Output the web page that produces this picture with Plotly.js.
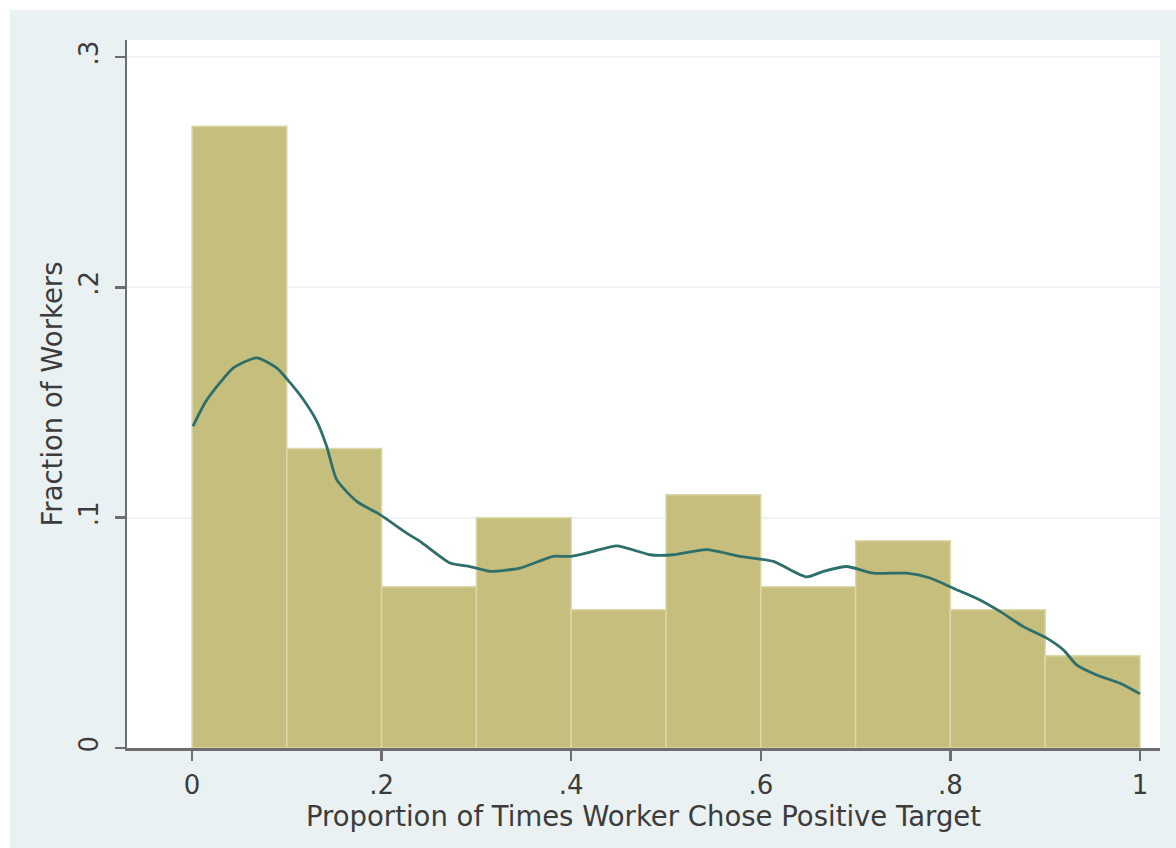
<!DOCTYPE html>
<html>
<head>
<meta charset="utf-8">
<script src="https://cdn.plot.ly/plotly-3.0.1.min.js"></script>
<style>html,body{margin:0;padding:0;background:#fff;}#chart{width:1176px;height:848px;}</style>
</head>
<body>
<div id="chart"></div>
<script>
// Histogram bins (bin centers) and fractions
const binCenters = [0.05, 0.15, 0.25, 0.35, 0.45, 0.55, 0.65, 0.75, 0.85, 0.95];
const fractions  = [0.27, 0.13, 0.07, 0.10, 0.06, 0.11, 0.07, 0.09, 0.06, 0.04];

// Kernel density curve
const kdeX = [0.001, 0.0137, 0.0295, 0.0436, 0.0682, 0.0893, 0.1034, 0.1174, 0.1315, 0.142, 0.1526, 0.1737, 0.1983, 0.2264, 0.2405, 0.2722, 0.2932, 0.3143, 0.346, 0.3811, 0.3987, 0.4233, 0.448, 0.4831, 0.5077, 0.543, 0.578, 0.6132, 0.6484, 0.666, 0.6906, 0.7187, 0.754, 0.7785, 0.8031, 0.8312, 0.8523, 0.8769, 0.9016, 0.9191, 0.9332, 0.9543, 0.9789, 1.0];
const kdeY = [0.1397, 0.1499, 0.1586, 0.165, 0.1694, 0.165, 0.1586, 0.1513, 0.1419, 0.131, 0.1165, 0.1071, 0.1013, 0.0933, 0.0897, 0.0803, 0.0788, 0.0767, 0.0781, 0.0832, 0.0832, 0.0854, 0.0878, 0.0839, 0.0839, 0.0861, 0.0832, 0.081, 0.0743, 0.0767, 0.0788, 0.0759, 0.0759, 0.0738, 0.0694, 0.0643, 0.0593, 0.0527, 0.0477, 0.0426, 0.0361, 0.0317, 0.0281, 0.0235];

const xTickVals = [0, 0.2, 0.4, 0.6, 0.8, 1];
const xTickText = ['0', '.2', '.4', '.6', '.8', '1'];
const yTickVals = [0, 0.1, 0.2, 0.3];
const yTickText = ['0', '.1', '.2', '.3'];

const fontFam = 'DejaVu Sans, Verdana, sans-serif';
const textCol = '#3c3c3c';
const axisCol = '#6e6e6e';

const traces = [
  {
    type: 'bar',
    x: binCenters,
    y: fractions,
    width: 0.1,
    marker: {color: '#C5BE7C', line: {color: '#DCD7A8', width: 1.5}},
    hoverinfo: 'x+y'
  },
  {
    type: 'scatter',
    mode: 'lines',
    x: kdeX,
    y: kdeY,
    line: {color: '#2E6E6B', width: 2.8, shape: 'spline', smoothing: 0.6}
  }
];

const layout = {
  width: 1176,
  height: 848,
  showlegend: false,
  paper_bgcolor: '#ffffff',
  plot_bgcolor: '#ffffff',
  margin: {l: 127, r: 16, t: 40, b: 100, pad: 0},
  bargap: 0,
  font: {family: fontFam, color: textCol},
  shapes: [
    {type: 'rect', xref: 'paper', yref: 'paper', layer: 'below',
     x0: -117/1033, x1: 16/1033 + 1, y0: -100/708, y1: 1 + 30/708,
     fillcolor: '#EAF1F3', line: {width: 0}},
    {type: 'rect', xref: 'paper', yref: 'paper', layer: 'below',
     x0: 0, x1: 1, y0: 0, y1: 1,
     fillcolor: '#ffffff', line: {width: 0}}
  ],
  xaxis: {
    range: [-0.0686, 1.0211],
    tickmode: 'array',
    tickvals: xTickVals,
    ticktext: xTickText,
    ticks: 'outside',
    ticklen: 10,
    tickwidth: 2.5,
    tickcolor: axisCol,
    showline: true,
    linecolor: axisCol,
    linewidth: 2.5,
    showgrid: false,
    zeroline: false,
    ticklabelstandoff: 2,
    tickfont: {size: 26, color: textCol, family: fontFam},
    title: {text: 'Proportion of Times Worker Chose Positive Target', font: {size: 27.5, color: textCol, family: fontFam}, standoff: 0}
  },
  yaxis: {
    range: [0, 0.3074],
    tickmode: 'array',
    tickvals: yTickVals,
    ticktext: yTickText,
    tickangle: -90,
    ticks: 'outside',
    ticklen: 10,
    tickwidth: 2.5,
    tickcolor: axisCol,
    showline: true,
    linecolor: axisCol,
    linewidth: 2.5,
    showgrid: true,
    gridcolor: '#EEF3F4',
    gridwidth: 2,
    zeroline: false,
    ticklabelstandoff: 6,
    tickfont: {size: 26, color: textCol, family: fontFam},
    title: {text: 'Fraction of Workers', font: {size: 27.5, color: textCol, family: fontFam}, standoff: 4}
  }
};

Plotly.newPlot('chart', traces, layout, {displayModeBar: false, staticPlot: true});
</script>
</body>
</html>
